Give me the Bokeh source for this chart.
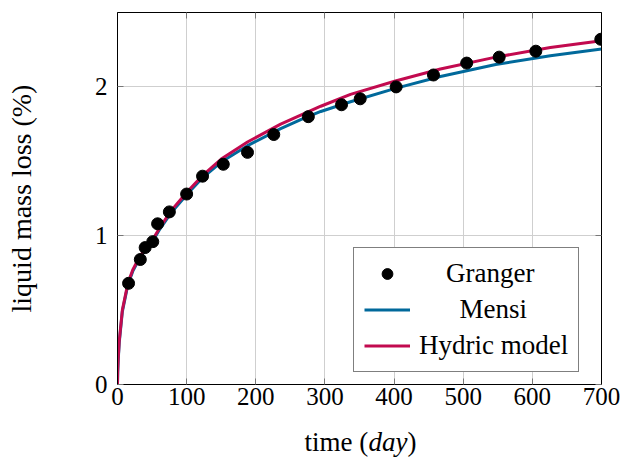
from bokeh.plotting import figure
from bokeh.layouts import column
from bokeh.models import (Range1d, FixedTicker, LinearAxis, Legend, LegendItem,
                          Label, ColumnDataSource)
from bokeh.embed import file_html
from bokeh.resources import INLINE

# Granger experimental points: time (day) and liquid mass loss (%)
granger_t = [16, 33, 40, 51, 58, 75, 100, 123, 153, 188, 226, 276, 324, 351,
             403, 457, 505, 552, 605, 699]
granger_loss = [0.68, 0.84, 0.92, 0.96, 1.08, 1.16, 1.28, 1.40, 1.48, 1.56,
                1.68, 1.80, 1.88, 1.92, 2.00, 2.08, 2.16, 2.20, 2.24, 2.32]

# Model curves, sampled along time (day)
model_t = [0, 0.3, 1, 2.5, 7, 15, 22, 31, 41, 51, 60, 77, 100, 122, 150, 188,
           236, 265, 294, 337, 402, 467, 547, 626, 700]
mensi_loss = [0, 0.08, 0.16, 0.28, 0.49, 0.67, 0.76, 0.84, 0.91, 0.965, 1.035,
              1.15, 1.275, 1.385, 1.495, 1.605, 1.72, 1.78, 1.835, 1.90, 1.99,
              2.07, 2.15, 2.21, 2.255]
hydric_loss = [0, 0.09, 0.17, 0.29, 0.50, 0.68, 0.77, 0.85, 0.92, 0.975, 1.045,
               1.165, 1.29, 1.40, 1.515, 1.63, 1.75, 1.81, 1.87, 1.95, 2.04,
               2.12, 2.20, 2.265, 2.31]

x_ticks = [0, 100, 200, 300, 400, 500, 600, 700]
y_ticks = [0, 1, 2]

FONT = "Liberation Serif"
BLUE = "#00699B"
RED = "#C20A4F"

p = figure(width=623, height=417, output_backend="svg", toolbar_location=None,
           x_range=Range1d(0, 700), y_range=Range1d(0, 2.5),
           min_border_left=117, min_border_right=22, min_border_top=12,
           min_border_bottom=33)
p.background_fill_color = "white"
p.border_fill_color = "white"
p.outline_line_color = "black"
p.outline_line_width = 1

model = ColumnDataSource(dict(t=model_t, mensi=mensi_loss, hydric=hydric_loss))
pts = ColumnDataSource(dict(t=granger_t, loss=granger_loss))

r_mensi = p.line("t", "mensi", source=model, line_color=BLUE, line_width=3)
r_hydric = p.line("t", "hydric", source=model, line_color=RED, line_width=3)
r_granger = p.scatter("t", "loss", source=pts, size=12, color="black")

# grid
p.xgrid.ticker = FixedTicker(ticks=x_ticks)
p.ygrid.ticker = FixedTicker(ticks=y_ticks)
p.grid.grid_line_color = "#cfcfcf"
p.grid.grid_line_width = 1

def style_axis(ax, ticks, show_labels=True):
    ax.ticker = FixedTicker(ticks=ticks)
    ax.axis_line_color = "black"
    ax.major_tick_in = 6
    ax.major_tick_out = 0
    ax.major_tick_line_color = "#777777"
    ax.minor_tick_line_color = None
    ax.major_label_text_font = FONT
    ax.major_label_text_color = "black"
    ax.major_label_text_font_size = "25px"
    if not show_labels:
        ax.major_label_overrides = {t: "" for t in ticks}
        ax.major_label_standoff = 0

style_axis(p.xaxis[0], x_ticks)
style_axis(p.yaxis[0], y_ticks)
p.xaxis[0].major_label_standoff = 3
p.yaxis[0].major_label_standoff = 10

p.yaxis[0].axis_label = "liquid mass loss (%)"
p.yaxis[0].axis_label_text_font = FONT
p.yaxis[0].axis_label_text_font_size = "28px"
p.yaxis[0].axis_label_text_font_style = "normal"
p.yaxis[0].axis_label_text_color = "black"
p.yaxis[0].axis_label_standoff = 55

# mirrored tick marks on the top and right edges
top_ax = LinearAxis()
style_axis(top_ax, x_ticks, show_labels=False)
p.add_layout(top_ax, "above")
right_ax = LinearAxis()
style_axis(right_ax, y_ticks, show_labels=False)
p.add_layout(right_ax, "right")

nb = "\u00a0"
legend = Legend(items=[
    LegendItem(label=nb * 4 + "Granger", renderers=[r_granger]),
    LegendItem(label=nb * 6 + "Mensi", renderers=[r_mensi]),
    LegendItem(label="Hydric model", renderers=[r_hydric]),
])
legend.location = (236, 12)
legend.border_line_color = "black"
legend.border_line_width = 1
legend.background_fill_color = "white"
legend.background_fill_alpha = 1
legend.label_text_font = FONT
legend.label_text_font_size = "27px"
legend.label_text_color = "black"
legend.glyph_width = 46
legend.glyph_height = 27
legend.label_height = 27
legend.label_standoff = 9
legend.spacing = 5
legend.padding = 10
legend.margin = 0
p.add_layout(legend, "center")

# strip under the chart carrying the x axis title (italic unit)
xt = figure(width=623, height=40, output_backend="svg", toolbar_location=None,
            x_range=Range1d(0, 623), y_range=Range1d(0, 40), min_border=0)
xt.axis.visible = False
xt.grid.visible = False
xt.outline_line_color = None
xt.background_fill_color = "white"
xt.border_fill_color = "white"
xlab_common = dict(x_units="screen", y_units="screen", y=16,
                   text_font=FONT, text_font_size="27px", text_color="black",
                   text_baseline="middle", text_align="left")
xt.add_layout(Label(x=187, text="time (", **xlab_common))
xt.add_layout(Label(x=251, text="day", text_font_style="italic", **xlab_common))
xt.add_layout(Label(x=290, text=")", **xlab_common))

layout = column(p, xt, spacing=0)
open("out.html", "w").write(file_html(layout, INLINE))
